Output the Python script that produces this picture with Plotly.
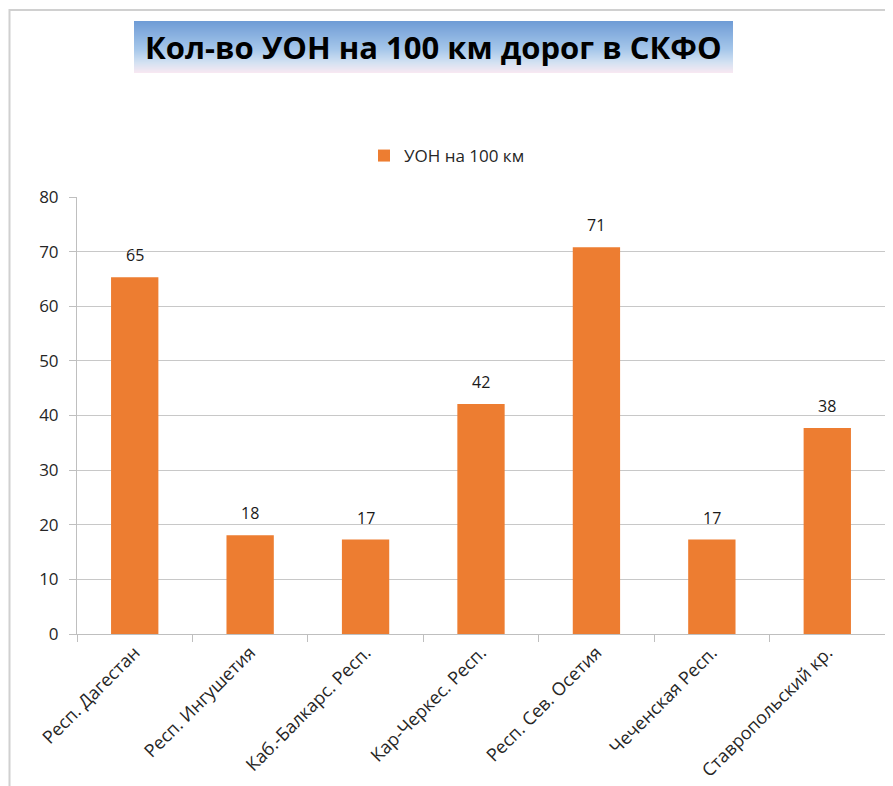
import plotly.graph_objects as go

categories = ["Респ. Дагестан", "Респ. Ингушетия", "Каб.-Балкарс. Респ.", "Кар-Черкес. Респ.",
              "Респ. Сев. Осетия", "Чеченская Респ.", "Ставропольский кр."]
values = [65.3, 18.1, 17.3, 42.1, 70.8, 17.3, 37.7]
labels = ["65", "18", "17", "42", "71", "17", "38"]
series_name = "УОН на 100 км"
title_text = "Кол-во УОН на 100 км дорог в СКФО"

OFF = 8  # browser body margin
W, H = 893 - OFF, 786 - OFF
L, R, T, B = 77 - OFF, 885 - OFF, 197 - OFF, 634 - OFF
pw, ph = R - L, B - T

def px(X):
    return (X - OFF - L) / pw

def py(Y):
    return (B - (Y - OFF)) / ph

fig = go.Figure()
fig.add_trace(go.Bar(
    x=categories, y=values, name=series_name,
    marker=dict(color="#ED7D31", line=dict(width=0)),
    showlegend=True,
))

shapes = []
x0, x1, y0, y1 = 134, 733, 21, 73
stops = [(0.0, (111, 156, 214)), (0.55, (166, 199, 234)), (0.8, (210, 225, 242)), (1.0, (247, 232, 242))]
def col(t):
    for i in range(len(stops) - 1):
        a, ca = stops[i]
        b, cb = stops[i + 1]
        if a <= t <= b:
            f = (t - a) / (b - a)
            return "rgb(%d,%d,%d)" % tuple(round(ca[k] + (cb[k] - ca[k]) * f) for k in range(3))
    return "rgb(247,232,242)"
n = 52
for i in range(n):
    ya = y0 + (y1 - y0) * i / n
    yb = y0 + (y1 - y0) * (i + 1) / n
    shapes.append(dict(type="rect", xref="paper", yref="paper",
                       x0=px(x0), x1=px(x1), y0=py(yb), y1=py(ya),
                       fillcolor=col(i / (n - 1)), line=dict(width=0), layer="below"))
shapes.append(dict(type="line", xref="paper", yref="paper", x0=px(9), x1=px(900), y0=py(10), y1=py(10),
                   line=dict(color="#D0D0D0", width=2)))
shapes.append(dict(type="line", xref="paper", yref="paper", x0=px(9.5), x1=px(9.5), y0=py(9), y1=py(800),
                   line=dict(color="#D0D0D0", width=2)))

annotations = [dict(text="<b>" + title_text + "</b>", xref="paper", yref="paper",
                    x=px((x0 + x1) / 2), y=py(47), xanchor="center", yanchor="middle",
                    showarrow=False,
                    font=dict(family="Open Sans", size=31, color="black"))]
for c, v, t in zip(categories, values, labels):
    annotations.append(dict(x=c, y=v, text=t, xref="x", yref="y", showarrow=False,
                            yanchor="bottom", yshift=9,
                            font=dict(family="Open Sans", size=16, color="#1a1a1a")))

fig.update_layout(
    width=W, height=H,
    margin=dict(l=L, r=W - R, t=T, b=H - B, autoexpand=False),
    paper_bgcolor="white", plot_bgcolor="white",
    bargap=0.59,
    shapes=shapes,
    showlegend=True,
    legend=dict(orientation="h", x=px(447), xanchor="center", y=py(156), yanchor="middle",
                font=dict(family="Open Sans", size=17, color="#262626"),
                itemwidth=30, bgcolor="rgba(0,0,0,0)"),
    annotations=annotations,
    xaxis=dict(type="category", tickson="boundaries", ticks="outside", ticklen=7,
               tickcolor="#BFBFBF", showline=True, linecolor="#BFBFBF", linewidth=1,
               showgrid=False, tickangle=-45,
               tickfont=dict(family="Open Sans", size=18, color="#262626")),
    yaxis=dict(range=[0, 80], dtick=10, ticks="outside", ticklen=7, tickcolor="#BFBFBF",
               showline=True, linecolor="#BFBFBF", linewidth=1, ticklabelstandoff=7,
               showgrid=True, gridcolor="#C8C8C8", gridwidth=1, zeroline=False,
               tickfont=dict(family="Open Sans", size=17, color="#262626")),
)

fig.write_html("out.html")
